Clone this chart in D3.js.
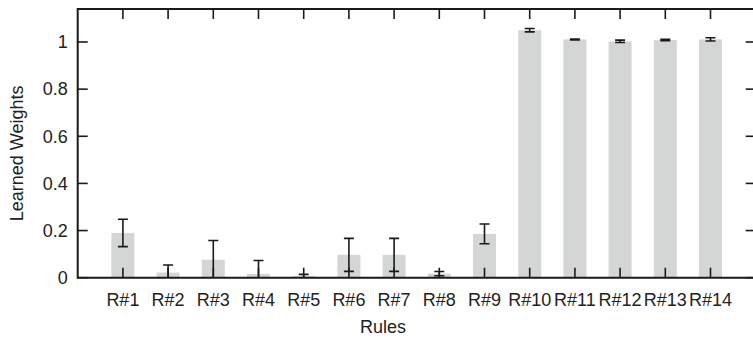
<html>
<head>
<script src="https://cdnjs.cloudflare.com/ajax/libs/d3/7.8.5/d3.min.js"></script>
<style>
  body { margin: 0; background: #fff; }
  text { font-family: "Liberation Sans", Arial, sans-serif; fill: #222; }
</style>
</head>
<body>
<svg width="753" height="341"></svg>
<script>
// data
var rules = ["R#1","R#2","R#3","R#4","R#5","R#6","R#7","R#8","R#9","R#10","R#11","R#12","R#13","R#14"];
var weights = [0.19, 0.022, 0.076, 0.016, 0.007, 0.097, 0.097, 0.017, 0.186, 1.05, 1.011, 1.003, 1.008, 1.011];
var errs = [0.058, 0.032, 0.082, 0.057, 0.007, 0.07, 0.07, 0.009, 0.042, 0.007, 0.002, 0.005, 0.003, 0.007];
var yTicks = [0, 0.2, 0.4, 0.6, 0.8, 1];

var svg = d3.select("svg");
var x0 = 77.7, y0 = 277.7, y1 = 9, step = 45.2;
var x = d3.scaleLinear().domain([0, rules.length + 1]).range([x0, x0 + step * (rules.length + 1)]);
var y = d3.scaleLinear().domain([0, 1.14]).range([y0, y1]);
var x1 = x(rules.length + 1);
var barW = 23, capW = 10, tickLen = 10;

svg.append("clipPath").attr("id", "plot")
  .append("rect").attr("x", x0).attr("y", y1).attr("width", x1 - x0).attr("height", y0 - y1);

var data = rules.map((r, i) => ({rule: r, i: i + 1, v: weights[i], e: errs[i]}));

svg.selectAll("rect.bar").data(data).enter().append("rect")
  .attr("class", "bar")
  .attr("x", d => x(d.i) - barW / 2)
  .attr("y", d => y(d.v))
  .attr("width", barW)
  .attr("height", d => y0 - y(d.v))
  .style("fill", "#d4d5d5");

// error bars
var eb = svg.append("g").attr("clip-path", "url(#plot)")
  .style("stroke", "#1a1a1a").style("stroke-width", 1.6);
data.forEach(d => {
  var cx = x(d.i), hi = y(d.v + d.e), lo = y(d.v - d.e);
  eb.append("line").attr("x1", cx).attr("x2", cx).attr("y1", hi).attr("y2", lo);
  eb.append("line").attr("x1", cx - capW / 2).attr("x2", cx + capW / 2).attr("y1", hi).attr("y2", hi);
  eb.append("line").attr("x1", cx - capW / 2).attr("x2", cx + capW / 2).attr("y1", lo).attr("y2", lo);
});

// frame and inward ticks
var fr = svg.append("g").style("stroke", "#1a1a1a").style("fill", "none");
fr.append("path").style("stroke-width", 2)
  .attr("d", `M${x0},${y1}H${x1}V${y0}H${x0}Z`);
data.forEach(d => {
  fr.append("line").style("stroke-width", 1.6).attr("x1", x(d.i)).attr("x2", x(d.i)).attr("y1", y0).attr("y2", y0 - tickLen);
  fr.append("line").style("stroke-width", 1.6).attr("x1", x(d.i)).attr("x2", x(d.i)).attr("y1", y1).attr("y2", y1 + tickLen);
});
yTicks.forEach(t => {
  fr.append("line").style("stroke-width", 1.6).attr("x1", x0).attr("x2", x0 + tickLen).attr("y1", y(t)).attr("y2", y(t));
  fr.append("line").style("stroke-width", 1.6).attr("x1", x1).attr("x2", x1 - tickLen).attr("y1", y(t)).attr("y2", y(t));
});

// labels
svg.selectAll("text.ylab").data(yTicks).enter().append("text")
  .attr("x", x0 - 10).attr("y", d => y(d)).attr("dy", "0.35em")
  .attr("text-anchor", "end").style("font-size", "18px")
  .text(d => d === 0 || d === 1 ? String(d) : d.toFixed(1));

svg.selectAll("text.xlab").data(data).enter().append("text")
  .attr("x", d => x(d.i)).attr("y", y0 + 22).attr("dy", "0.35em")
  .attr("text-anchor", "middle").style("font-size", "18px")
  .text(d => d.rule);

svg.append("text").attr("x", 383).attr("y", 327).attr("dy", "0.35em")
  .attr("text-anchor", "middle").style("font-size", "18px").text("Rules");

svg.append("text").attr("transform", `translate(17,${(y1 + y0) / 2 + 10}) rotate(-90)`)
  .attr("dy", "0.35em").attr("text-anchor", "middle").style("font-size", "18px")
  .text("Learned Weights");
</script>
</body>
</html>
